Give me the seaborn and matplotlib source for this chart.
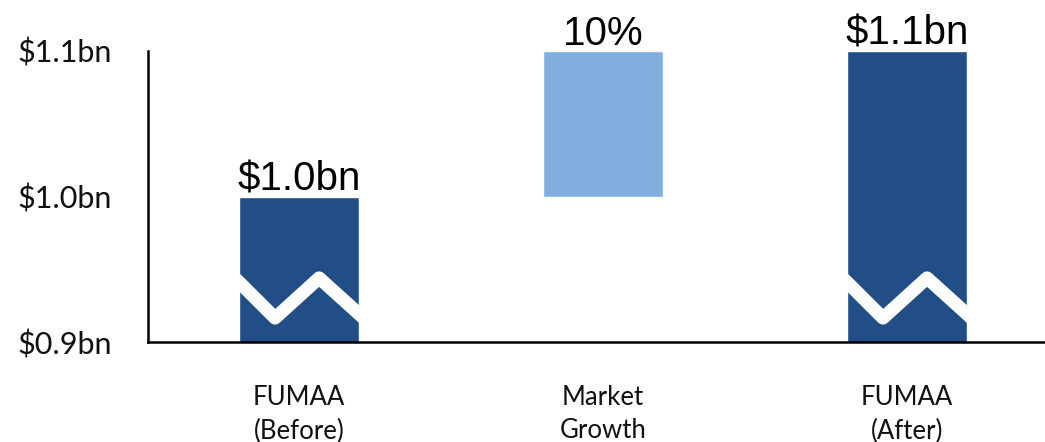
import numpy as np
import pandas as pd
import matplotlib
matplotlib.use("Agg")
import matplotlib.pyplot as plt
import matplotlib.transforms as mtransforms
import seaborn as sns

# ---- data ----
categories = ["FUMAA\n(Before)", "Market\nGrowth", "FUMAA\n(After)"]
before_value = 1.0          # $bn
growth_value = 0.1          # $bn (10%)
after_value = 1.1           # $bn
value_labels = ["$1.0bn", "10%", "$1.1bn"]
ytick_values = [0.9, 1.0, 1.1]
ytick_labels = ["$0.9bn", "$1.0bn", "$1.1bn"]

dark_blue = "#224E88"
light_blue = "#82ADDF"

sns.set_theme(style="white")
plt.rcParams["font.family"] = ["Lato", "DejaVu Sans"]

fig = plt.figure(figsize=(10.45, 4.42), dpi=100)
ax = fig.add_axes([148 / 1045, 100 / 442, 1 - 148 / 1045, 291 / 442])

totals = pd.DataFrame({"category": [categories[0], categories[2]],
                       "value": [before_value, after_value]})
growth = pd.DataFrame({"category": [categories[1]], "value": [growth_value]})

bw = 0.395
sns.barplot(data=totals, x="category", y="value", order=categories,
            color=dark_blue, saturation=1, width=bw, ax=ax)
sns.barplot(data=growth, x="category", y="value", order=categories,
            color=light_blue, saturation=1, width=bw, bottom=before_value, ax=ax)

ax.set_ylim(0.9, 1.1)
ax.set_xlim(-0.497, 2.454)
ax.set_xlabel("")
ax.set_ylabel("")
ax.set_yticks(ytick_values, ytick_labels, fontsize=22, color="#111111")
ax.set_xticks(range(len(categories)), categories, fontsize=18.5,
              color="#111111", linespacing=1.42)
ax.tick_params(axis="y", length=0, pad=26)
ax.tick_params(axis="x", length=0, pad=31)

sns.despine(ax=ax, top=True, right=True)
for s in ["left", "bottom"]:
    ax.spines[s].set_color("black")
    ax.spines[s].set_linewidth(1.8)
ax.spines["left"].set_bounds(0.9, 1.1)

# value labels and break marks
patches = sorted([p for p in ax.patches if p.get_height() > 0], key=lambda p: p.get_x())
trans = mtransforms.blended_transform_factory(ax.transData, ax.transAxes)
for i, p in enumerate(patches):
    top = p.get_y() + p.get_height()
    cx = p.get_x() + p.get_width() / 2
    ax.annotate(value_labels[i], (cx, top), xytext=(0, 4.5), textcoords="offset points",
                ha="center", va="baseline", fontsize=29,
                family=["Liberation Sans", "DejaVu Sans"],
                color="black", annotation_clip=False)
    if p.get_facecolor()[:3] == matplotlib.colors.to_rgb(dark_blue):
        x0, w = p.get_x(), p.get_width()
        fx = np.array([-0.15, 0.0, 0.30, 0.667, 1.0, 1.15])
        fy = np.array([0.265, 0.206, 0.0825, 0.22, 0.096, 0.04])
        line, = ax.plot(x0 + fx * w, fy, transform=trans, color="white",
                        lw=9.5, solid_joinstyle="round", solid_capstyle="butt")
        line.set_clip_path(p)

fig.savefig("out.png", dpi=100)
